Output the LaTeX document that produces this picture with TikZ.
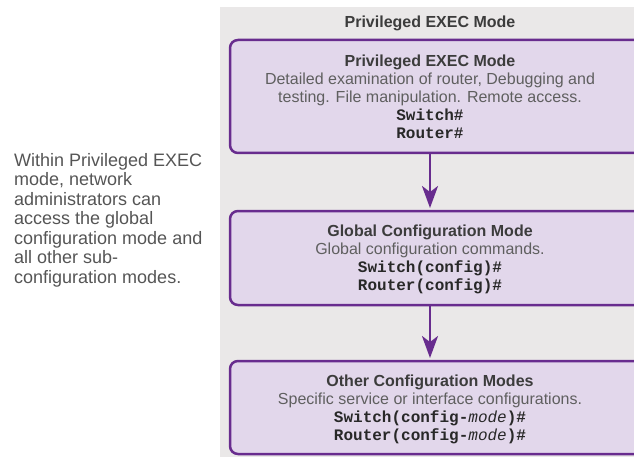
\documentclass[tikz,border=0pt]{standalone}
\usepackage{fontspec}
\setmainfont{Liberation Sans}
\setmonofont{Liberation Mono}
\usetikzlibrary{arrows.meta}
\definecolor{panelc}{RGB}{234,232,232}
\definecolor{boxfill}{RGB}{226,215,235}
\definecolor{boxline}{RGB}{104,44,142}
\definecolor{titlec}{RGB}{60,60,60}
\definecolor{descc}{RGB}{95,95,95}
\definecolor{monoc}{RGB}{40,40,40}
\definecolor{sidec}{RGB}{85,85,85}
\tikzset{
  modebox/.style={draw=boxline, fill=boxfill, line width=2.5pt, rounded corners=8pt,
    anchor=north west, minimum width=420pt, inner sep=0pt, outer sep=0pt},
  boxtext/.style={anchor=north, align=center, inner sep=0pt,
    font=\fontsize{16}{18}\selectfont},
  flow/.style={draw=boxline, line width=2.5pt,
    -{Stealth[length=22pt,width=16pt,inset=6pt]}, shorten >=3pt},
}
\newcommand{\ttl}[1]{{\bfseries\color{titlec}#1}}
\newcommand{\dsc}[1]{{\color{descc}#1}}
\newcommand{\cmd}[1]{{\ttfamily\bfseries\color{monoc}#1}}
\newcommand{\mdv}{{\mdseries\itshape mode}}
\begin{document}
\begin{tikzpicture}[x=1pt,y=-1pt]
\useasboundingbox (0,0) rectangle (634,457);
\clip (0,0) rectangle (634,457);
\fill[panelc] (220,7) rectangle (640,470);
\node[anchor=base, inner sep=0pt, font=\fontsize{16}{18}\selectfont\bfseries, text=titlec] (hdr) at (430,28) {Privileged EXEC Mode};
\node[modebox, minimum height=113pt] (b1) at (230,40) {};
\node[modebox, minimum height=94pt] (b2) at (230,211) {};
\node[modebox, minimum height=93pt] (b3) at (230,361) {};
\node[boxtext] (t1) at (430,54.4) {\ttl{Privileged EXEC Mode}\\
  \dsc{Detailed examination of router, Debugging and}\\
  \dsc{testing. File manipulation. Remote access.}\\
  \cmd{Switch\#}\\
  \cmd{Router\#}};
\node[boxtext] (t2) at (430,224.4) {\ttl{Global Configuration Mode}\\
  \dsc{Global configuration commands.}\\
  \cmd{Switch(config)\#}\\
  \cmd{Router(config)\#}};
\node[boxtext] (t3) at (430,374.4) {\ttl{Other Configuration Modes}\\
  \dsc{Specific service or interface configurations.}\\
  \cmd{Switch(config-\mdv)\#}\\
  \cmd{Router(config-\mdv)\#}};
\coordinate (a1s) at (430,153);
\coordinate (a1e) at (430,211);
\coordinate (a2s) at (430,305);
\coordinate (a2e) at (430,361);
\draw[flow] (a1s) -- (a1e);
\draw[flow] (a2s) -- (a2e);
\node[anchor=north west, align=left, inner sep=0pt, text=sidec,
  font=\fontsize{18}{19.5}\selectfont] (side) at (14,153)
  {Within Privileged EXEC\\mode, network\\administrators can\\access the global\\configuration mode and\\all other sub-\\configuration modes.};
\end{tikzpicture}
\end{document}
